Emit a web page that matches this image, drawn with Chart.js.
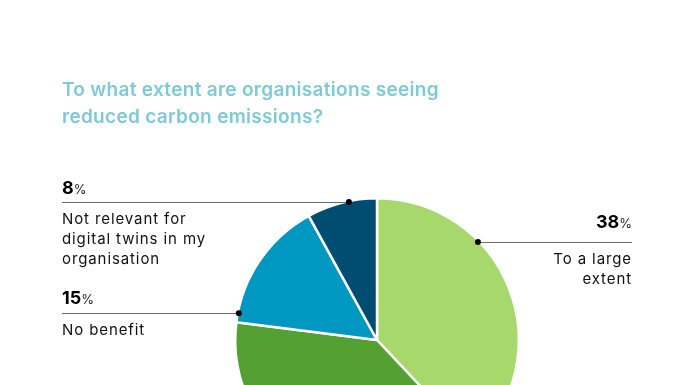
<!DOCTYPE html>
<html><head><meta charset="utf-8">
<script src="https://cdn.jsdelivr.net/npm/chart.js@4/dist/chart.umd.min.js"></script>
<style>
html,body{margin:0;padding:0;background:#fff;overflow:hidden;width:696px;height:385px;}
#title{position:absolute;left:62px;top:76px;font-family:Inter,"Noto Sans",sans-serif;font-weight:600;font-size:19px;line-height:27px;color:#7fcad6;letter-spacing:0.3px;}
#wrap{position:absolute;left:0;top:0;width:696px;height:500px;}
</style></head>
<body>
<div id="wrap"><canvas id="c" width="696" height="500"></canvas></div>
<div id="title">To what extent are organisations seeing<br>reduced carbon emissions?</div>
<script>
const categories = ["To a large extent", "To some extent", "No benefit", "Not relevant for digital twins in my organisation"];
const values = [38, 39, 15, 8];
const colors = ["#a6d86b", "#55a033", "#0097c1", "#004d71"];
const labelLines = [["To a large", "extent"], null, ["No benefit"], ["Not relevant for", "digital twins in my", "organisation"]];
// annotation layout: fraction inside slice for anchor, side, end x, number offset
const labelLayout = [
  {frac: 0.335, side: "right", endX: 632, numDy: -14},
  null,
  {frac: 0.07, side: "left", endX: 62, numDy: -9},
  {frac: 0.6, side: "left", endX: 62, numDy: -8}
];

const annot = {
  id: 'annot',
  afterDraw(chart) {
    const ctx = chart.ctx;
    const meta = chart.getDatasetMeta(0);
    meta.data.forEach((arc, i) => {
      const lay = labelLayout[i];
      if (!lay) return;
      const a = arc.startAngle + (arc.endAngle - arc.startAngle) * lay.frac;
      const r = arc.outerRadius - 1;
      const px = arc.x + Math.cos(a) * r;
      const py = arc.y + Math.sin(a) * r;
      ctx.save();
      ctx.strokeStyle = "#6b6b6b";
      ctx.lineWidth = 1;
      ctx.beginPath();
      ctx.moveTo(px, Math.round(py) + 0.5);
      ctx.lineTo(lay.endX, Math.round(py) + 0.5);
      ctx.stroke();
      ctx.fillStyle = "#000";
      ctx.beginPath();
      ctx.arc(px, py, 3, 0, Math.PI * 2);
      ctx.fill();
      const numStr = String(values[i]);
      ctx.textBaseline = "alphabetic";
      ctx.letterSpacing = "0px";
      ctx.font = "700 18px Inter, 'Noto Sans', sans-serif";
      const nw = ctx.measureText(numStr).width;
      ctx.font = "400 13px Inter, 'Noto Sans', sans-serif";
      const pw = ctx.measureText("%").width;
      let x0 = lay.side === "left" ? lay.endX : lay.endX - nw - pw;
      const ny = py + lay.numDy;
      ctx.textAlign = "left";
      ctx.font = "700 18px Inter, 'Noto Sans', sans-serif";
      ctx.fillText(numStr, x0, ny);
      ctx.font = "400 13px Inter, 'Noto Sans', sans-serif";
      ctx.fillStyle = "#222";
      ctx.fillText("%", x0 + nw, ny);
      ctx.fillStyle = "#111";
      ctx.font = "400 15px Inter, 'Noto Sans', sans-serif";
      ctx.letterSpacing = "0.9px";
      ctx.textAlign = lay.side === "left" ? "left" : "right";
      labelLines[i].forEach((ln, k) => {
        ctx.fillText(ln, lay.endX, py + 22 + k * 20);
      });
      ctx.restore();
    });
  }
};

new Chart(document.getElementById('c'), {
  type: 'pie',
  data: {
    labels: categories,
    datasets: [{data: values, backgroundColor: colors, borderColor: "#fff", borderWidth: 2.5, hoverOffset: 0}]
  },
  options: {
    responsive: false,
    animation: false,
    layout: {padding: {left: 234, right: 176, top: 197, bottom: 17}},
    plugins: {legend: {display: false}, tooltip: {enabled: false}, title: {display: false}},
    events: []
  },
  plugins: [annot]
});
</script>
</body></html>
